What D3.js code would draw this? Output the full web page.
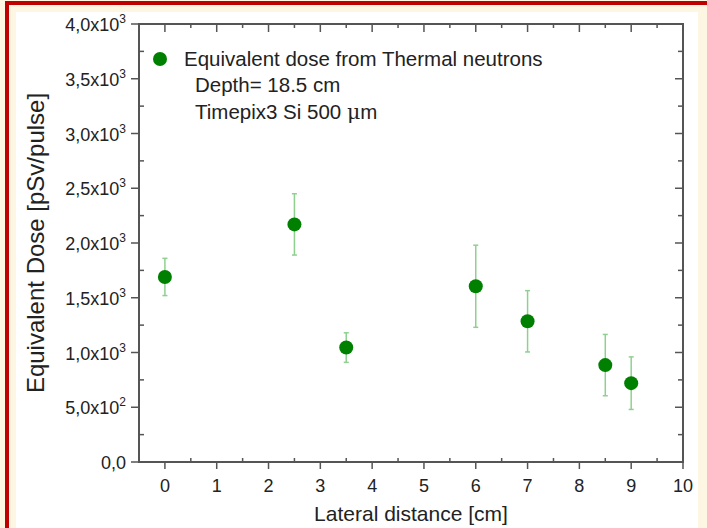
<!DOCTYPE html>
<html>
<head>
<meta charset="utf-8">
<script src="https://cdn.jsdelivr.net/npm/d3@7"></script>
<style>
  html, body { margin: 0; padding: 0; background: #fdf6e3; }
  svg { display: block; }
  text { font-family: "Liberation Sans", Arial, sans-serif; fill: #222; }
</style>
</head>
<body>
<script>
// ---- data ----
const distances = [0, 2.5, 3.5, 6, 7, 8.5, 9];
const doses = [1690, 2170, 1045, 1605, 1285, 885, 720];
const doseErrors = [170, 280, 135, 375, 280, 280, 240];
const xTicks = [0, 1, 2, 3, 4, 5, 6, 7, 8, 9, 10];
const yTickMant = ["0,0", "5,0", "1,0", "1,5", "2,0", "2,5", "3,0", "3,5", "4,0"];
const yTickExp = ["", "2", "3", "3", "3", "3", "3", "3", "3"];
const yTickValues = [0, 500, 1000, 1500, 2000, 2500, 3000, 3500, 4000];
const legendLines = ["Equivalent dose from Thermal neutrons", "Depth= 18.5 cm", "Timepix3 Si 500 "];

const W = 707, H = 528;
const svg = d3.select("body").append("svg").attr("width", W).attr("height", H);

// background frame
svg.append("rect").attr("x", 0).attr("y", 0).attr("width", W).attr("height", H).attr("fill", "#fdf6e3");
svg.append("rect").attr("x", 16).attr("y", 12).attr("width", 682).attr("height", H - 12).attr("fill", "#ffffff");
svg.append("rect").attr("x", 5).attr("y", 1).attr("width", W).attr("height", 4).attr("fill", "#c00000");
svg.append("rect").attr("x", 5).attr("y", 1).attr("width", 4).attr("height", H).attr("fill", "#c00000");

const L = 139, R = 683, T = 24, B = 462;
const x = d3.scaleLinear().domain([-0.5, 10]).range([L, R]);
const y = d3.scaleLinear().domain([0, 4000]).range([B, T]);

const axisColor = "#555";
const g = svg.append("g");

const xMinor = d3.range(-0.5, 10.01, 0.5).filter(v => !xTicks.includes(v));
const yMinor = d3.range(250, 4000, 500);

xTicks.forEach(v => {
  g.append("line").attr("x1", x(v)).attr("x2", x(v)).attr("y1", B).attr("y2", B + 7).attr("stroke", axisColor).attr("stroke-width", 1.5);
  g.append("line").attr("x1", x(v)).attr("x2", x(v)).attr("y1", T).attr("y2", T + 8).attr("stroke", axisColor).attr("stroke-width", 1.5);
  g.append("text").attr("x", x(v)).attr("y", 492).attr("text-anchor", "middle").attr("font-size", 18).text(v);
});
xMinor.forEach(v => {
  g.append("line").attr("x1", x(v)).attr("x2", x(v)).attr("y1", B).attr("y2", B - 4).attr("stroke", axisColor).attr("stroke-width", 1.5);
  g.append("line").attr("x1", x(v)).attr("x2", x(v)).attr("y1", T).attr("y2", T + 4).attr("stroke", axisColor).attr("stroke-width", 1.5);
});
yTickValues.forEach((v, i) => {
  g.append("line").attr("x1", L - 8).attr("x2", L).attr("y1", y(v)).attr("y2", y(v)).attr("stroke", axisColor).attr("stroke-width", 1.5);
  g.append("line").attr("x1", R - 8).attr("x2", R).attr("y1", y(v)).attr("y2", y(v)).attr("stroke", axisColor).attr("stroke-width", 1.5);
  const t = g.append("text").attr("x", 126).attr("y", y(v) + 7).attr("text-anchor", "end").attr("font-size", 18);
  if (yTickExp[i]) {
    t.append("tspan").text(yTickMant[i] + "x10");
    t.append("tspan").attr("font-size", 12).attr("dy", -8).text(yTickExp[i]);
  } else {
    t.text(yTickMant[i]);
  }
});
yMinor.forEach(v => {
  g.append("line").attr("x1", L).attr("x2", L + 5).attr("y1", y(v)).attr("y2", y(v)).attr("stroke", axisColor).attr("stroke-width", 1.5);
  g.append("line").attr("x1", R - 5).attr("x2", R).attr("y1", y(v)).attr("y2", y(v)).attr("stroke", axisColor).attr("stroke-width", 1.5);
});

g.append("rect").attr("x", L).attr("y", T).attr("width", R - L).attr("height", B - T)
  .attr("fill", "none").attr("stroke", axisColor).attr("stroke-width", 2);

// axis titles
svg.append("text").attr("x", (L + R) / 2).attr("y", 521).attr("text-anchor", "middle").attr("font-size", 21).text("Lateral distance [cm]");
svg.append("text").attr("transform", `translate(44,${(T + B) / 2}) rotate(-90)`).attr("text-anchor", "middle").attr("font-size", 24).text("Equivalent Dose [pSv/pulse]");

// error bars
const errColor = "#8fd08f";
const pts = distances.map((d, i) => ({ d, v: doses[i], e: doseErrors[i] }));
const eg = svg.append("g").attr("stroke", errColor).attr("stroke-width", 1.5);
pts.forEach(p => {
  eg.append("line").attr("x1", x(p.d)).attr("x2", x(p.d)).attr("y1", y(p.v + p.e)).attr("y2", y(p.v - p.e));
  eg.append("line").attr("x1", x(p.d) - 2.5).attr("x2", x(p.d) + 2.5).attr("y1", y(p.v + p.e)).attr("y2", y(p.v + p.e));
  eg.append("line").attr("x1", x(p.d) - 2.5).attr("x2", x(p.d) + 2.5).attr("y1", y(p.v - p.e)).attr("y2", y(p.v - p.e));
});
svg.append("g").selectAll("circle").data(pts).join("circle")
  .attr("cx", p => x(p.d)).attr("cy", p => y(p.v)).attr("r", 7).attr("fill", "#008000");

// legend
svg.append("circle").attr("cx", 160).attr("cy", 59).attr("r", 7).attr("fill", "#008000");
svg.append("text").attr("x", 184).attr("y", 66).attr("font-size", 20.5).text(legendLines[0]);
svg.append("text").attr("x", 195).attr("y", 92).attr("font-size", 20.5).text(legendLines[1]);
const t3 = svg.append("text").attr("x", 195).attr("y", 119).attr("font-size", 20.5).text(legendLines[2]);
t3.append("tspan").attr("font-family", "'DejaVu Serif', 'Liberation Serif', serif").text("\u03bc");
t3.append("tspan").text("m");
</script>
</body>
</html>
